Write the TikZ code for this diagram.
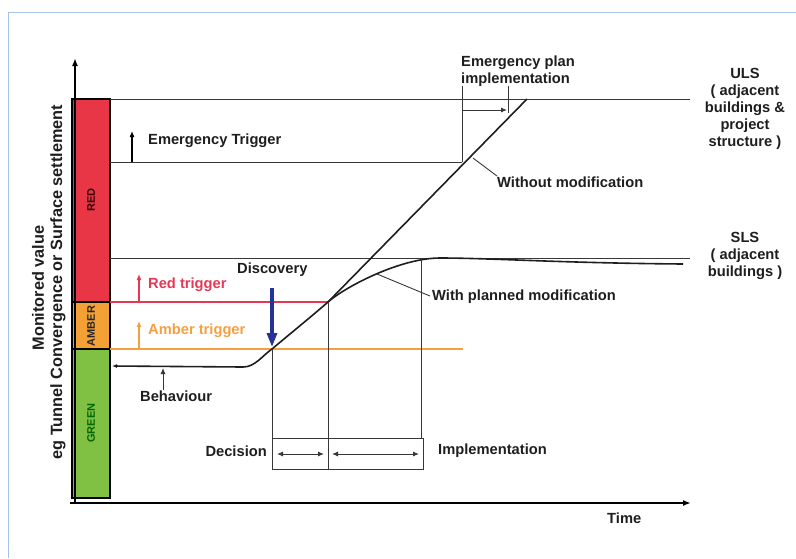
\documentclass[tikz,border=0pt]{standalone}
\usepackage{fontspec}
\setmainfont{Liberation Sans}
\usetikzlibrary{arrows.meta}
\definecolor{framec}{RGB}{165,195,232}
\definecolor{barred}{RGB}{232,54,70}
\definecolor{baramber}{RGB}{243,160,52}
\definecolor{bargreen}{RGB}{128,192,66}
\definecolor{trigred}{RGB}{228,56,84}
\definecolor{trigamber}{RGB}{244,160,64}
\definecolor{discblue}{RGB}{38,50,150}
\definecolor{thinc}{RGB}{55,55,55}
\definecolor{txt}{RGB}{30,30,30}
\begin{document}
\begin{tikzpicture}[x=1pt,y=-1pt,
  lbl/.style={font=\fontsize{14.7}{17}\selectfont\bfseries, inner sep=0pt, text=txt},
  ylbl/.style={font=\fontsize{16.3}{19}\selectfont\bfseries, inner sep=0pt, text=txt, rotate=90},
  barlbl/.style={font=\fontsize{11}{12}\selectfont\bfseries, inner sep=0pt, rotate=90},
  thinline/.style={draw=thinc, line width=0.9pt},
  crv/.style={draw=txt, line width=1.6pt},
  axisline/.style={draw=black, line width=1.8pt, -{Latex[length=8pt,width=6pt]}},
  tipa/.style={-{Latex[length=6pt,width=5pt]}},
  tipb/.style={{Latex[length=6pt,width=5pt]}-{Latex[length=6pt,width=5pt]}},
  bararea/.style={draw=black, line width=1.2pt},
]
\useasboundingbox (0,0) rectangle (796,558);
% frame
\draw[framec, line width=1pt] (8,558) -- (8,12) -- (796,12);

% bars
\draw[bararea, fill=barred] (72,99) rectangle (110,302);
\draw[bararea, fill=baramber] (72,302) rectangle (110,349);
\draw[bararea, fill=bargreen] (72,349) rectangle (110,498);
\node[barlbl, text=black!80!red] (redl) at (91,200) {RED};
\node[barlbl, text=black!85] (amberl) at (91,326) {AMBER};
\node[barlbl, text=black!60!green] (greenl) at (91,423) {GREEN};

% axes
\coordinate (O) at (75,503);
\coordinate (ytip) at (75,58);
\coordinate (xstart) at (70,503);
\coordinate (xtip) at (691,503);
\draw[axisline] (O) -- (ytip);
\draw[axisline] (xstart) -- (xtip);

% axis labels
\node[ylbl] (ylab1) at (38,288) {Monitored value};
\node[ylbl] (ylab2) at (58,282) {eg Tunnel Convergence or Surface settlement};
\node[lbl, anchor=west] (time) at (607,518) {Time};

% horizontal limits
\coordinate (ulsL) at (110,99);   \coordinate (ulsR) at (690,99);
\coordinate (emL) at (110,162);   \coordinate (emR) at (462,162);
\coordinate (slsL) at (110,258);  \coordinate (slsR) at (690,258);
\coordinate (redL) at (110,302);  \coordinate (redR) at (328,302);
\coordinate (ambL) at (110,349);  \coordinate (ambR) at (463,349);
\draw[thinline] (ulsL) -- (ulsR);
\draw[thinline] (emL) -- (emR);
\draw[thinline] (slsL) -- (slsR);
\draw[trigred, line width=1.2pt] (redL) -- (redR);
\draw[trigamber, line width=1.2pt] (ambL) -- (ambR);

% trigger arrows and labels
\coordinate (etA) at (132,162); \coordinate (etB) at (132,131);
\draw[black, line width=1.1pt, tipa] (etA) -- (etB);
\node[lbl, anchor=west] (emtrig) at (148,141) {Emergency Trigger};
\coordinate (rtA) at (139,302); \coordinate (rtB) at (139,274);
\draw[trigred, line width=1.1pt, tipa] (rtA) -- (rtB);
\node[lbl, anchor=west, text=trigred] (redtrig) at (148,285) {Red trigger};
\coordinate (atA) at (139,349); \coordinate (atB) at (139,321);
\draw[trigamber, line width=1.1pt, tipa] (atA) -- (atB);
\node[lbl, anchor=west, text=trigamber] (ambtrig) at (148,331) {Amber trigger};

% key points of the curves
\coordinate (bstart) at (112,366);
\coordinate (bflat) at (243,367);
\coordinate (pDisc) at (272,349);
\coordinate (pDec) at (328,302);
\coordinate (pPeak) at (440,258);
\coordinate (pEnd) at (683,264);
\coordinate (pUls) at (527,99);

% behaviour curve with planned modification
\draw[crv, {Latex[length=5pt,width=4pt]}-] (bstart) -- (bflat)
  .. controls (255,367) and (262,356) .. (pDisc)
  .. controls (291,333) and (312,316) .. (pDec)
  .. controls (345,287) and (400,258) .. (pPeak)
  .. controls (490,258) and (560,263) .. (pEnd);
% without modification
\draw[crv] (pDec) -- (pUls);

% behaviour label
\coordinate (behA) at (163,390); \coordinate (behB) at (163,368);
\draw[thinline, tipa] (behA) -- (behB);
\node[lbl, anchor=west] (beh) at (140,396) {Behaviour};

% discovery
\node[lbl, anchor=west] (disc) at (237,270) {Discovery};
\coordinate (dA) at (272,288); \coordinate (dB) at (272,347);
\draw[discblue, line width=3.2pt, -{Triangle[length=14pt,width=10pt]}] (dA) -- (dB);

% decision / implementation
\coordinate (vImpTop) at (421,259);
\coordinate (vImpBot) at (421,438);
\coordinate (boxTL) at (272,438); \coordinate (boxBR) at (423,469);
\coordinate (boxMidB) at (328,469);
\coordinate (boxBL) at (272,469);
\draw[thinline] (pDisc) -- (boxBL);
\draw[thinline] (pDec) -- (boxMidB);
\draw[thinline] (vImpTop) -- (vImpBot);
\draw[thinline] (boxTL) rectangle (boxBR);
\coordinate (a1L) at (277,454); \coordinate (a1R) at (324,454);
\coordinate (a2L) at (332,454); \coordinate (a2R) at (419,454);
\draw[thinline, tipb] (a1L) -- (a1R);
\draw[thinline, tipb] (a2L) -- (a2R);
\node[lbl, anchor=east] (decision) at (267,451) {Decision};
\node[lbl, anchor=west] (impl) at (438,451) {Implementation};

% emergency plan implementation
\coordinate (eA) at (462,86); \coordinate (eB) at (508,86);
\coordinate (eB2) at (508,113);
\draw[thinline] (eA) -- (emR);
\draw[thinline] (eB) -- (eB2);
\coordinate (eaL) at (462,110); \coordinate (eaR) at (507,110);
\draw[thinline, tipa] (eaL) -- (eaR);
\node[lbl, anchor=west, align=left] (eplan) at (461,71) {Emergency plan\\implementation};

% leaders
\coordinate (wmA) at (473,158); \coordinate (wmB) at (497,176);
\draw[thinline] (wmA) -- (wmB);
\node[lbl, anchor=west] (wom) at (497,182) {Without modification};
\coordinate (wpA) at (377,274); \coordinate (wpB) at (430,296);
\draw[thinline] (wpA) -- (wpB);
\node[lbl, anchor=west] (wpm) at (432,297) {With planned modification};

% limit state labels
\node[lbl, align=center] (uls) at (745,109) {ULS\\( adjacent\\buildings \&\\project\\structure )};
\node[lbl, align=center] (sls) at (745,256) {SLS\\( adjacent\\buildings )};
\end{tikzpicture}
\end{document}
